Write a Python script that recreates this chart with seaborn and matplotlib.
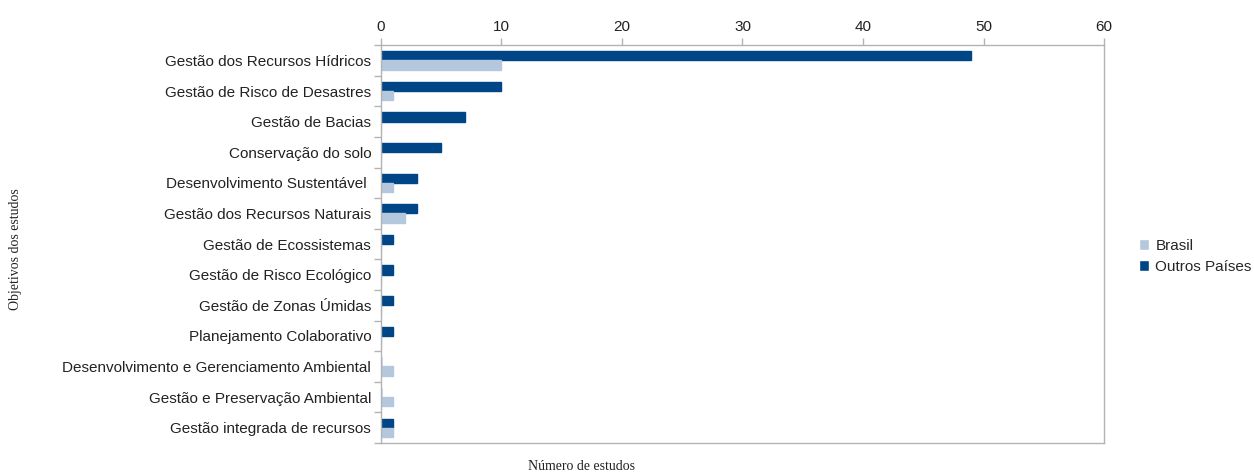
import matplotlib
matplotlib.use("Agg")
import matplotlib.pyplot as plt
import seaborn as sns
import pandas as pd
from matplotlib.patches import Patch

categories = [
    "Gestão dos Recursos Hídricos",
    "Gestão de Risco de Desastres",
    "Gestão de Bacias",
    "Conservação do solo",
    "Desenvolvimento Sustentável ",
    "Gestão dos Recursos Naturais",
    "Gestão de Ecossistemas",
    "Gestão de Risco Ecológico",
    "Gestão de Zonas Úmidas",
    "Planejamento Colaborativo",
    "Desenvolvimento e Gerenciamento Ambiental",
    "Gestão e Preservação Ambiental",
    "Gestão integrada de recursos",
]
outros = [49, 10, 7, 5, 3, 3, 1, 1, 1, 1, 0, 0, 1]
brasil = [10, 1, 0, 0, 1, 2, 0, 0, 0, 0, 1, 1, 1]
series_names = ["Outros Países", "Brasil"]
colors = {"Outros Países": "#004586", "Brasil": "#b4c7dc"}
xticks = [0, 10, 20, 30, 40, 50, 60]

df = pd.DataFrame({
    "cat": categories * 2,
    "val": outros + brasil,
    "serie": ["Outros Países"] * len(categories) + ["Brasil"] * len(categories),
})

sns.set_style("white")
plt.rcParams["font.family"] = ["Liberation Sans", "DejaVu Sans"]

fig = plt.figure(figsize=(12.54, 4.75), dpi=100)
ax = fig.add_axes([0.3038, 0.0674, 0.8804 - 0.3038, 0.905 - 0.0674])

sns.barplot(data=df, y="cat", x="val", hue="serie", hue_order=series_names,
            order=categories, palette=colors, orient="h", width=0.6,
            ax=ax, legend=False, saturation=1)
for p in ax.patches:
    p.set_edgecolor(p.get_facecolor())
    p.set_linewidth(1.0)

ax.set_xlim(0, 60)
ax.set_xticks(xticks)
ax.xaxis.tick_top()
ax.tick_params(axis="x", labelsize=11, color="#b3b3b3", length=5, width=1,
               direction="out", top=True, bottom=False, labelcolor="#222222", pad=3)
ax.tick_params(axis="y", which="major", labelsize=11, length=0, pad=7, labelcolor="#222222")
# category separators on left
ax.set_yticks([i + 0.5 for i in range(-1, len(categories))], minor=True)
ax.tick_params(axis="y", which="minor", left=True, length=5, width=1,
               color="#b3b3b3", direction="out")
for s in ax.spines.values():
    s.set_color("#b3b3b3")
    s.set_linewidth(1)
ax.set_xlabel("")
ax.set_ylabel("")
ax.grid(False)

fig.text(0.0125, 0.475, "Objetivos dos estudos", rotation=90, ha="center", va="center",
         fontsize=10, family=["Liberation Serif"], color="#222222")
fig.text(0.464, 0.018, "Número de estudos", ha="center", va="center",
         fontsize=10, family=["Liberation Serif"], color="#222222")

handles = [Patch(facecolor=colors["Brasil"], label="Brasil"),
           Patch(facecolor=colors["Outros Países"], label="Outros Países")]
fig.legend(handles=handles, loc="center left", bbox_to_anchor=(0.897, 0.46),
           frameon=False, fontsize=11, handlelength=0.7, handleheight=0.7,
           handletextpad=0.4, labelspacing=0.45)

fig.savefig("out.png", dpi=100)
